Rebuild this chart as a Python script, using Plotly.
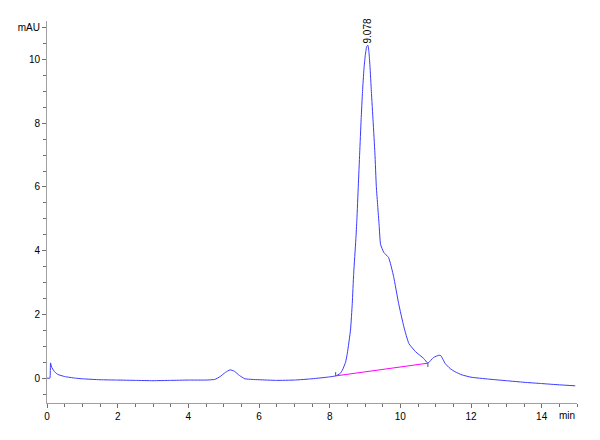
import plotly.graph_objects as go

# Chromatogram signal (time in min, absorbance in mAU)
time_min = [0.00, 0.08, 0.10, 0.13, 0.20, 0.30, 0.50, 0.80, 1.00, 1.50, 2.00, 2.50, 3.00,
            3.50, 4.00, 4.50, 4.75, 4.90, 5.05, 5.18, 5.30, 5.45, 5.60, 5.80, 6.00, 6.50,
            7.00, 7.50, 8.00, 8.17, 8.30, 8.36, 8.45, 8.50, 8.59, 8.64, 8.68, 8.74, 8.77,
            8.81, 8.85, 8.89, 8.93, 8.97, 9.01, 9.05, 9.08, 9.11, 9.14, 9.18, 9.23, 9.28,
            9.32, 9.36, 9.40, 9.44, 9.53, 9.67, 9.81, 9.95, 10.10, 10.24, 10.43, 10.66,
            10.78, 10.94, 11.10, 11.15, 11.27, 11.41, 11.55, 11.75, 12.00, 12.50, 13.00,
            13.50, 14.00, 14.50, 14.95]
signal_mau = [0.00, 0.00, 0.48, 0.35, 0.22, 0.12, 0.05, 0.00, -0.02, -0.05, -0.06, -0.07, -0.08,
              -0.07, -0.06, -0.06, -0.04, 0.05, 0.18, 0.26, 0.22, 0.08, -0.02, -0.04, -0.05, -0.07,
              -0.06, -0.02, 0.04, 0.07, 0.15, 0.25, 0.50, 0.78, 1.51, 2.35, 3.29, 4.34, 4.97,
              6.02, 7.07, 8.11, 9.00, 9.70, 10.15, 10.42, 10.45, 10.25, 9.80, 9.00, 8.05, 7.07,
              6.02, 5.40, 4.80, 4.20, 3.95, 3.78, 3.19, 2.35, 1.61, 1.09, 0.83, 0.62,
              0.47, 0.65, 0.72, 0.70, 0.46, 0.30, 0.20, 0.10, 0.03, -0.03, -0.08,
              -0.13, -0.17, -0.21, -0.24]

# Integration baseline of the main peak
baseline_time = [8.17, 10.78]
baseline_mau = [0.07, 0.47]

# Peak annotation
peak_time = 9.078
peak_height = 10.45
peak_label = "9.078"

# Axis ticks
y_tickvals = [0, 2, 4, 6, 8, 10, 11]
y_ticktext = ["0", "2", "4", "6", "8", "10", "mAU"]
x_tickvals = [0, 2, 4, 6, 8, 10, 12, 14]
x_ticktext = ["0", "2", "4", "6", "8", "10", "12", "14"]

font_family = "Liberation Sans Narrow, Arial Narrow, Liberation Sans, Arial, sans-serif"

fig = go.Figure()
fig.add_trace(go.Scatter(x=time_min, y=signal_mau, mode="lines",
                         line=dict(color="#3a3aff", width=1, shape="spline", smoothing=0.4),
                         hoverinfo="skip", showlegend=False))
fig.add_trace(go.Scatter(x=baseline_time, y=baseline_mau, mode="lines",
                         line=dict(color="#ff00ff", width=1),
                         hoverinfo="skip", showlegend=False))

# small tick marks at baseline start/end
fig.add_shape(type="line", x0=baseline_time[0], x1=baseline_time[0],
              y0=baseline_mau[0], y1=baseline_mau[0] + 0.12,
              line=dict(color="#555555", width=1))
fig.add_shape(type="line", x0=baseline_time[1], x1=baseline_time[1],
              y0=baseline_mau[1] - 0.12, y1=baseline_mau[1],
              line=dict(color="#555555", width=1))

fig.add_annotation(x=peak_time, y=peak_height, text=peak_label, textangle=-90,
                   showarrow=False, xanchor="center", yanchor="bottom",
                   font=dict(family=font_family, size=10, color="#000000"))
fig.add_annotation(x=15, y=0, xref="x", yref="paper", text="min", showarrow=False,
                   xanchor="right", yanchor="top", yshift=-5,
                   font=dict(family=font_family, size=10, color="#000000"))

fig.update_xaxes(range=[0, 15], showgrid=False, zeroline=False, showline=True, automargin=False,
                 linecolor="#a0a0a0", linewidth=1, ticks="outside", ticklen=4,
                 tickcolor="#707070", tickvals=x_tickvals, ticktext=x_ticktext,
                 minor=dict(dtick=0.5, tick0=0, ticks="outside", ticklen=3, tickcolor="#707070"),
                 tickfont=dict(family=font_family, size=10, color="#000000"))
fig.update_yaxes(range=[-0.78, 11.21], showgrid=False, zeroline=False, showline=True, automargin=False,
                 linecolor="#a0a0a0", linewidth=1, ticks="outside", ticklen=4,
                 tickcolor="#707070", tickvals=y_tickvals, ticktext=y_ticktext,
                 minor=dict(dtick=0.5, tick0=0, ticks="outside", ticklen=3, tickcolor="#707070"),
                 tickfont=dict(family=font_family, size=10, color="#000000"))

# page body has an 8px default margin; figure sized to fit the 600x440 window
fig.update_layout(width=592, height=432, paper_bgcolor="white", plot_bgcolor="white",
                  margin=dict(l=39, r=23, t=13, b=37), showlegend=False)

fig.write_html("out.html")
